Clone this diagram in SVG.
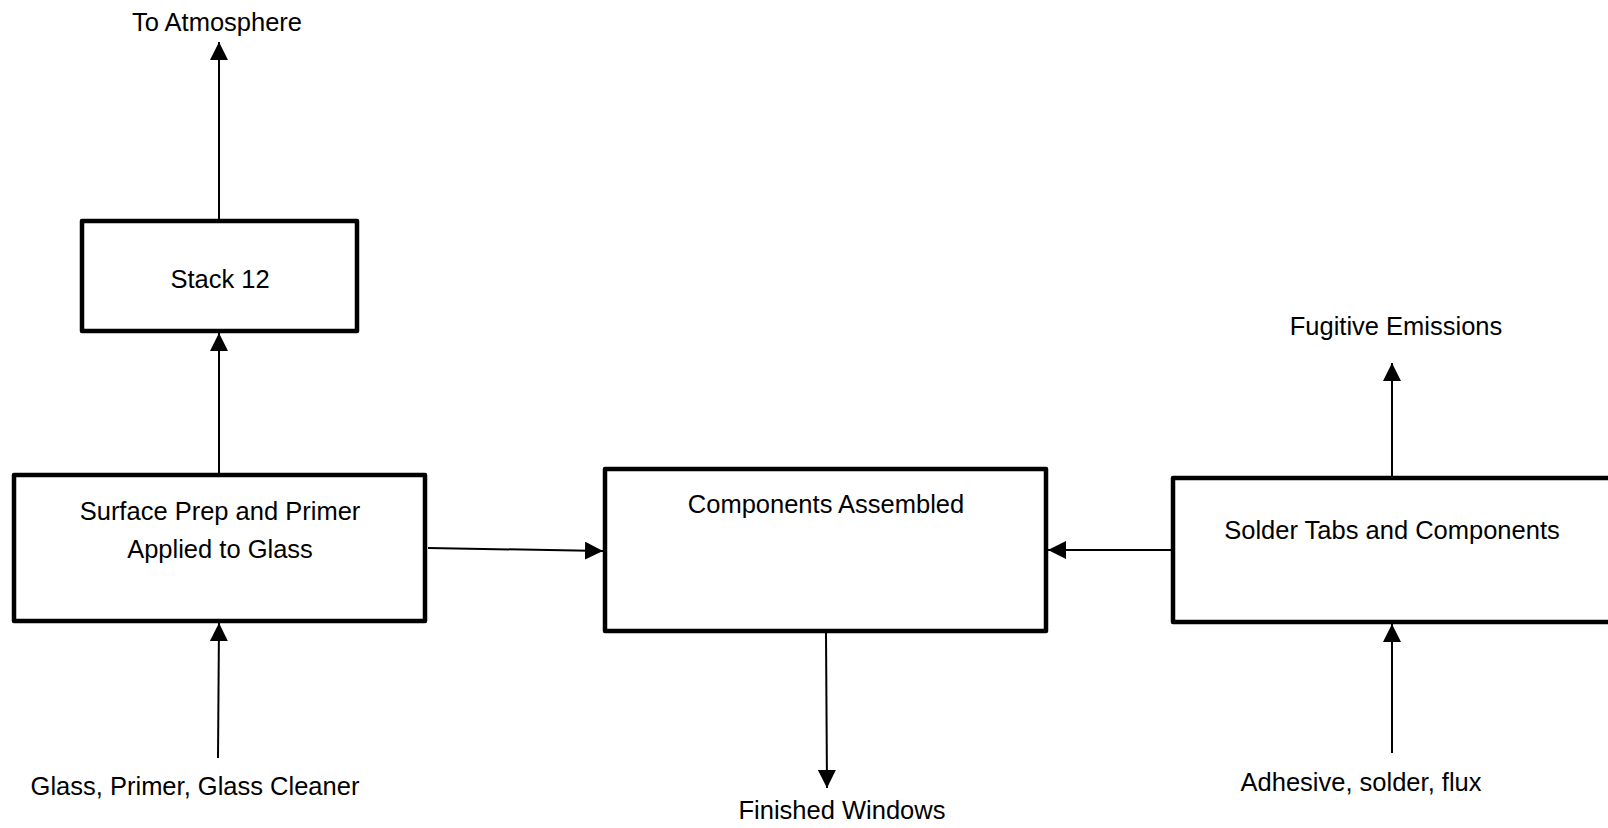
<svg xmlns="http://www.w3.org/2000/svg" width="1608" height="828" viewBox="0 0 1608 828">
<style>
.box{fill:#fff;stroke:#000;stroke-width:4.5;stroke-linejoin:round}
.lbl{font-family:"Liberation Sans",Arial,sans-serif;font-size:25.5px;fill:#000;text-anchor:middle}
.con{stroke:#000;stroke-width:2;fill:none}
</style>
<defs>
<marker id="ah" markerUnits="userSpaceOnUse" markerWidth="18" markerHeight="18" viewBox="0 0 16 16" refX="16" refY="8" orient="auto">
<path d="M0,0 L16,8 L0,16 Z" fill="#000"/>
</marker>
</defs>
<rect width="1608" height="828" fill="#fff"/>
<g id="stack12">
<rect class="box" x="82" y="221" width="275" height="110"/>
<text class="lbl" x="220" y="288">Stack 12</text>
</g>
<g id="surface">
<rect class="box" x="14" y="475" width="411" height="146"/>
<text class="lbl" x="220" y="520">Surface Prep and Primer</text>
<text class="lbl" x="220" y="558">Applied to Glass</text>
</g>
<g id="components">
<rect class="box" x="605" y="469" width="441" height="162"/>
<text class="lbl" x="826" y="513">Components Assembled</text>
</g>
<g id="solder">
<rect class="box" x="1173" y="478" width="460" height="144"/>
<text class="lbl" x="1392" y="539">Solder Tabs and Components</text>
</g>
<g id="labels">
<text class="lbl" x="217" y="31">To Atmosphere</text>
<text class="lbl" x="195" y="795">Glass, Primer, Glass Cleaner</text>
<text class="lbl" x="842" y="819">Finished Windows</text>
<text class="lbl" x="1396" y="335">Fugitive Emissions</text>
<text class="lbl" x="1361" y="791">Adhesive, solder, flux</text>
</g>
<g id="connectors">
<line class="con" x1="219" y1="219" x2="219" y2="42" marker-end="url(#ah)"/>
<line class="con" x1="219" y1="473" x2="219" y2="333" marker-end="url(#ah)"/>
<line class="con" x1="218" y1="758" x2="219" y2="623" marker-end="url(#ah)"/>
<line class="con" x1="428" y1="548" x2="603" y2="551" marker-end="url(#ah)"/>
<line class="con" x1="826" y1="633" x2="827" y2="788" marker-end="url(#ah)"/>
<line class="con" x1="1171" y1="550" x2="1048" y2="550" marker-end="url(#ah)"/>
<line class="con" x1="1392" y1="476" x2="1392" y2="363" marker-end="url(#ah)"/>
<line class="con" x1="1392" y1="753" x2="1392" y2="624" marker-end="url(#ah)"/>
</g>
</svg>
